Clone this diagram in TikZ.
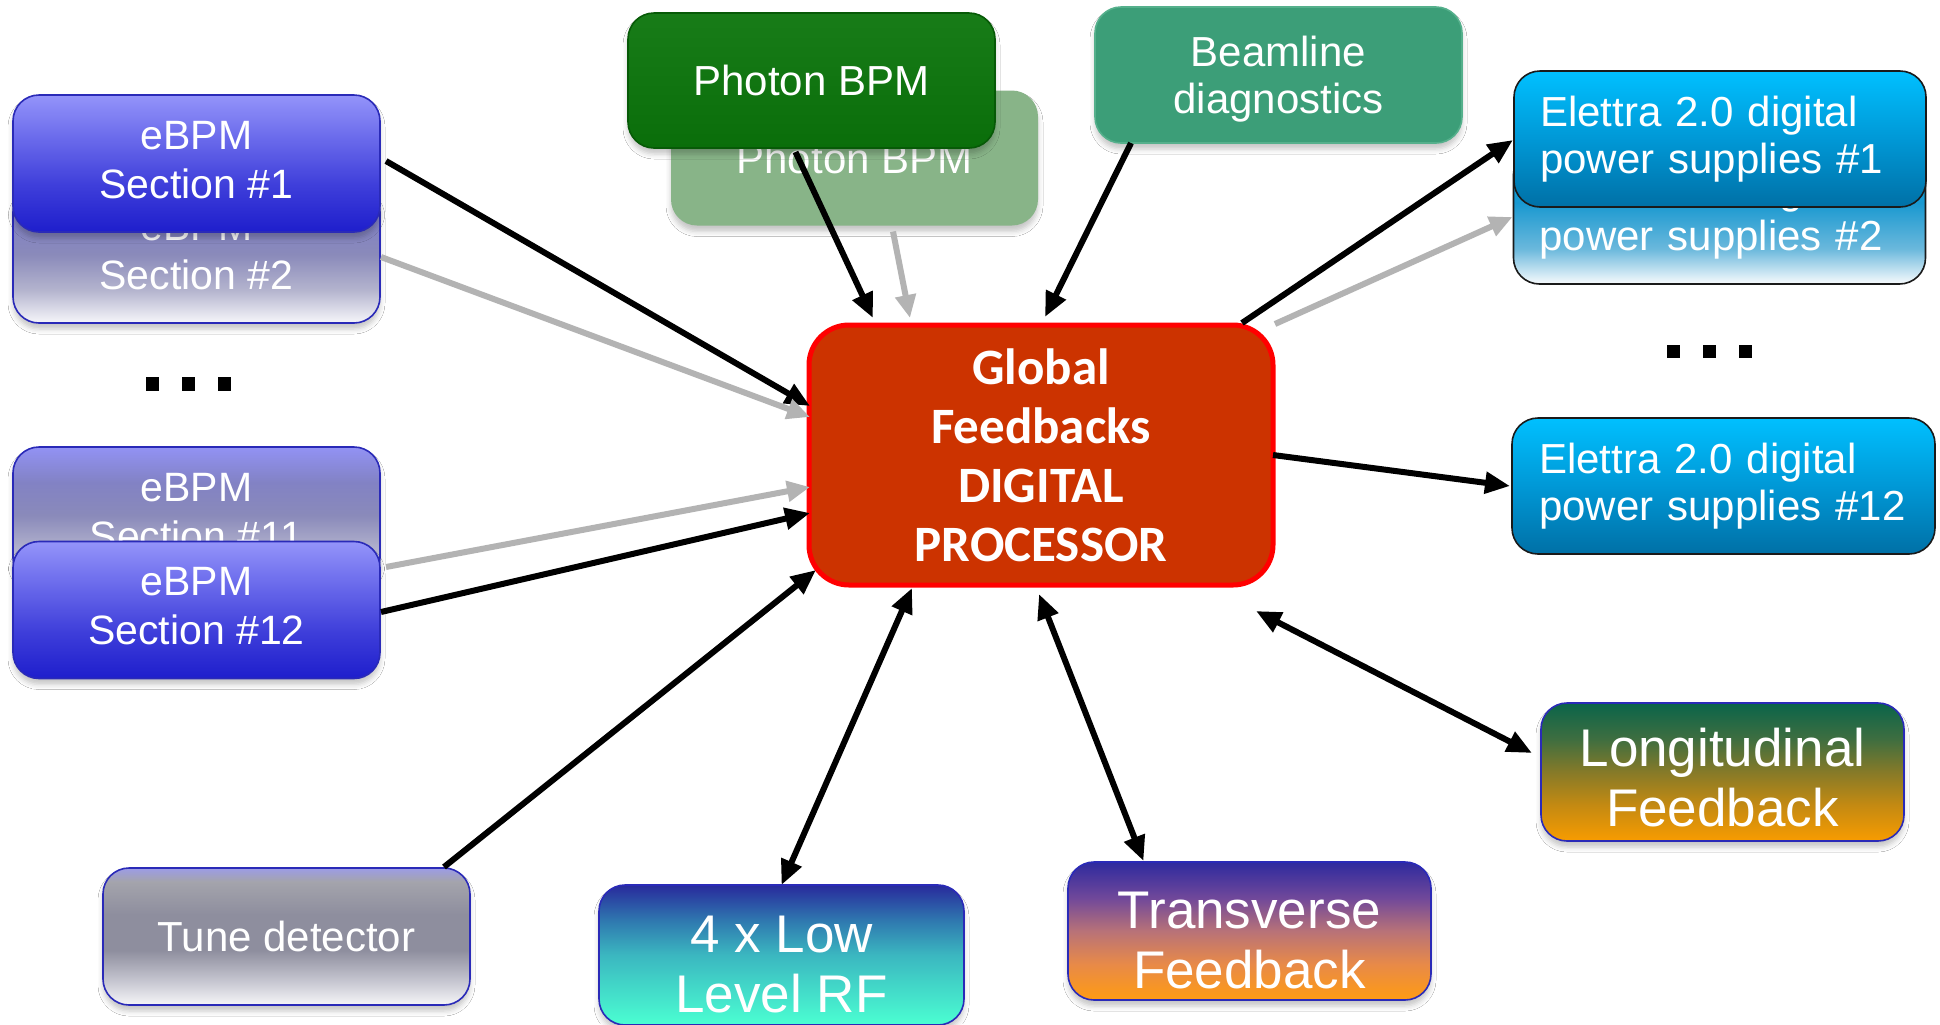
\documentclass[tikz,border=0pt]{standalone}
\usepackage{fontspec}
\setmainfont{Liberation Sans}
\newfontfamily\cpufont{Carlito}
\usetikzlibrary{arrows.meta,calc,shadows.blur}

\definecolor{bordblue}{HTML}{2A2AB8}
\definecolor{ebFa}{HTML}{1E1ECC}\definecolor{ebFb}{HTML}{3E3EDA}\definecolor{ebFc}{HTML}{6C6CEC}\definecolor{ebFd}{HTML}{9494FA}
\definecolor{ebBa}{HTML}{F6F6FA}\definecolor{ebBb}{HTML}{B4B4CE}\definecolor{ebBc}{HTML}{8A8ABA}\definecolor{ebBd}{HTML}{8282C4}\definecolor{ebBe}{HTML}{9292F4}
\definecolor{tuA}{HTML}{F6F6F8}\definecolor{tuB}{HTML}{CACAD4}\definecolor{tuC}{HTML}{8E8E9E}\definecolor{tuD}{HTML}{A4A4AC}\definecolor{tuE}{HTML}{9C9CE6}
\definecolor{elFa}{HTML}{0070A6}\definecolor{elFb}{HTML}{0098D6}\definecolor{elFc}{HTML}{00C0FF}
\definecolor{elBa}{HTML}{F8FBFD}\definecolor{elBb}{HTML}{6AB8DC}\definecolor{elBc}{HTML}{1898D0}\definecolor{elBd}{HTML}{00B4F4}
\definecolor{rfA}{HTML}{4BFFD2}\definecolor{rfB}{HTML}{3BB7C0}\definecolor{rfC}{HTML}{2F7AB0}\definecolor{rfD}{HTML}{282A9C}
\definecolor{tfA}{HTML}{FF9C12}\definecolor{tfB}{HTML}{E88A48}\definecolor{tfC}{HTML}{B87278}\definecolor{tfD}{HTML}{70489A}\definecolor{tfE}{HTML}{2E2A9E}
\definecolor{lfA}{HTML}{F89C00}\definecolor{lfB}{HTML}{C48A12}\definecolor{lfC}{HTML}{867A28}\definecolor{lfD}{HTML}{3E6E40}\definecolor{lfE}{HTML}{0A644A}
\definecolor{pbfront}{HTML}{0A6E0A}\definecolor{pbtop}{HTML}{187C18}\definecolor{pbedge}{HTML}{075A07}
\definecolor{pbback}{HTML}{88B488}
\definecolor{beam}{HTML}{3C9E78}\definecolor{beamedge}{HTML}{55B08C}
\definecolor{cpufill}{HTML}{CC3300}
\definecolor{arrgray}{HTML}{B3B3B3}
\definecolor{elbord}{HTML}{1A1A1A}

\pgfdeclareverticalshading{ebF}{100bp}{color(0bp)=(ebFa); color(25bp)=(ebFa); color(42bp)=(ebFb); color(60bp)=(ebFc); color(75bp)=(ebFd); color(100bp)=(ebFd)}
\pgfdeclareverticalshading{ebB}{100bp}{color(0bp)=(ebBa); color(25bp)=(ebBa); color(37bp)=(ebBb); color(50bp)=(ebBc); color(62bp)=(ebBd); color(75bp)=(ebBe); color(100bp)=(ebBe)}
\pgfdeclareverticalshading{tuS}{100bp}{color(0bp)=(tuA); color(25bp)=(tuA); color(33bp)=(tuB); color(45bp)=(tuC); color(58bp)=(tuC); color(70bp)=(tuD); color(75bp)=(tuE); color(100bp)=(tuE)}
\pgfdeclareverticalshading{elF}{100bp}{color(0bp)=(elFa); color(25bp)=(elFa); color(50bp)=(elFb); color(75bp)=(elFc); color(100bp)=(elFc)}
\pgfdeclareverticalshading{elB}{100bp}{color(0bp)=(elBa); color(25bp)=(elBa); color(38bp)=(elBb); color(55bp)=(elBc); color(75bp)=(elBd); color(100bp)=(elBd)}
\pgfdeclareverticalshading{rfS}{100bp}{color(0bp)=(rfA); color(25bp)=(rfA); color(50bp)=(rfB); color(62bp)=(rfC); color(75bp)=(rfD); color(100bp)=(rfD)}
\pgfdeclareverticalshading{tfS}{100bp}{color(0bp)=(tfA); color(25bp)=(tfA); color(38bp)=(tfB); color(50bp)=(tfC); color(62bp)=(tfD); color(75bp)=(tfE); color(100bp)=(tfE)}
\pgfdeclareverticalshading{lfS}{100bp}{color(0bp)=(lfA); color(25bp)=(lfA); color(38bp)=(lfB); color(50bp)=(lfC); color(62bp)=(lfD); color(75bp)=(lfE); color(100bp)=(lfE)}

\newcommand\tallstrut[1]{\rule{0pt}{#1}}

\tikzset{
  boxbase/.style={rectangle, rounded corners=13pt, inner sep=0pt, outer sep=0pt, text=white, align=center},
  shad/.style={blur shadow={shadow xshift=0pt, shadow yshift=-3pt, shadow opacity=22, shadow blur radius=2.5pt}},
  ebbox/.style={boxbase, shad, draw=bordblue, line width=0.8pt, minimum width=183.5pt, minimum height=68.5pt,
     font=\fontsize{20.5pt}{24.5pt}\selectfont},
  ebtext/.style={execute at end node={\rule[-4.1pt]{0pt}{0pt}}},
  elbox/.style={boxbase, draw=elbord, line width=0.8pt, minimum height=68pt, align=left, inner xsep=13pt,
     text width=180pt, font=\fontsize{21pt}{23.5pt}\selectfont},
  smallbox/.style={boxbase, shad, minimum width=183.5pt, minimum height=67.5pt, font=\fontsize{21pt}{23.5pt}\selectfont},
  bigbox/.style={boxbase, shad, draw=bordblue, line width=0.8pt, minimum width=181.5pt, minimum height=69pt,
     font=\fontsize{26.5pt}{30pt}\selectfont},
  blk/.style={line width=3pt, black, -{Triangle[length=12.5pt,width=10.5pt]}},
  blkb/.style={line width=3pt, black, {Triangle[length=12.5pt,width=10.5pt]}-{Triangle[length=12.5pt,width=10.5pt]}},
  gry/.style={line width=3pt, arrgray, -{Triangle[length=11.5pt,width=10pt]}},
}

\begin{document}
\begin{tikzpicture}[x=0.5pt,y=-0.5pt]
\useasboundingbox[fill=white] (0,0) rectangle (1940,1024);

% back boxes
\node[ebbox, ebtext, shade, shading=ebB] (e2) at (196.5,254.5) {eBPM\\Section \#2};
\node[ebbox, ebtext, shade, shading=ebB] (e11) at (196.5,515.5) {eBPM\\Section \#11};
\node[smallbox, fill=pbback] (pb2) at (854.5,158) {Photon BPM};
\node[elbox, shade, shading=elB] (el2) at (1719.5,216) {Elettra 2.0 digital\\power supplies \#2};

% front boxes
\node[ebbox, ebtext, shade, shading=ebF] (e1) at (196.5,163.5) {eBPM\\Section \#1};
\node[ebbox, ebtext, shade, shading=ebF] (e12) at (196.5,610) {eBPM\\Section \#12};
\node[smallbox, draw=pbedge, line width=0.8pt, top color=pbtop, bottom color=pbfront] (pb1) at (811.5,80.5) {Photon BPM};
\node[smallbox, draw=beamedge, line width=0.8pt, fill=beam, minimum height=68pt] (bl) at (1278.5,75) {\tallstrut{19.3pt}Beamline\\diagnostics};
\node[elbox, shade, shading=elF] (el1) at (1720,139) {Elettra 2.0 digital\\power supplies \#1};
\node[elbox, shade, shading=elF, text width=184.5pt, inner xsep=13.5pt] (el12) at (1723.5,486) {Elettra 2.0 digital\\power supplies \#12};

\node[boxbase, rounded corners=20pt, draw=red, line width=2.5pt, fill=cpufill, minimum width=232pt, minimum height=130pt,
  font=\cpufont\bfseries\fontsize{25.5pt}{29.5pt}\selectfont] (cpu) at (1041,455) {Global\\Feedbacks\\DIGITAL\\PROCESSOR};

\node[ebbox, shade, shading=tuS, font=\fontsize{21pt}{24pt}\selectfont] (tune) at (286.5,936.5) {Tune detector};
\node[bigbox, shade, shading=rfS, minimum width=182.5pt, minimum height=70pt] (rf) at (781.5,955) {\tallstrut{27.8pt}4 x Low\\Level RF};
\node[bigbox, shade, shading=tfS] (tf) at (1249.5,931) {\tallstrut{27.8pt}Transverse\\Feedback};
\node[bigbox, shade, shading=lfS] (lf) at (1722.5,772) {\tallstrut{25pt}Longitudinal\\Feedback};

% ellipsis dots
\foreach \xx in {146,182,218} \fill[black] (\xx,377) rectangle ++(13,14);
\foreach \xx in {1667,1703,1739} \fill[black] (\xx,345) rectangle ++(13,13);

% connectors
\draw[blk] ($(e1.east)+(6,-2.5)$) -- ($(cpu.west)+(1,-49)$);
\draw[gry] ($(e2.east)+(1,2.5)$) -- ($(cpu.west)+(1,-38)$);
\draw[gry] ($(e11.east)+(6,51.5)$) -- ($(cpu.west)+(1,32)$);
\draw[blk] ($(e12.east)+(1,2)$) -- ($(cpu.west)+(1,58)$);
\draw[blk] ($(tune.north east)+(-26,-1)$) -- ($(cpu.south west)+(7,-15)$);
\draw[blkb] (rf.north) -- ($(cpu.south)+(-129,3)$);
\draw[blkb] ($(tf.north)+(-106,-1)$) -- ($(cpu.south)+(-2,9)$);
\draw[blkb] ($(lf.west)+(-9,-19)$) -- ($(cpu.south east)+(-17,26)$);
\draw[blk] (cpu.east) -- ($(el12.west)+(-2,0)$);
\draw[blk] ($(cpu.north east)+(-31,-2)$) -- ($(el1.west)+(-1,1)$);
\draw[gry] ($(cpu.north east)+(2,-1)$) -- ($(el2.west)+(-1,1)$);
\draw[blk] ($(pb1.south)+(-16,4)$) -- ($(cpu.north)+(-168,-7)$);
\draw[gry] ($(pb2.south)+(38.5,6)$) -- ($(cpu.north)+(-131,-7)$);
\draw[blk] ($(bl.south)+(-147.5,0)$) -- ($(cpu.north)+(4,-8)$);
\end{tikzpicture}
\end{document}
